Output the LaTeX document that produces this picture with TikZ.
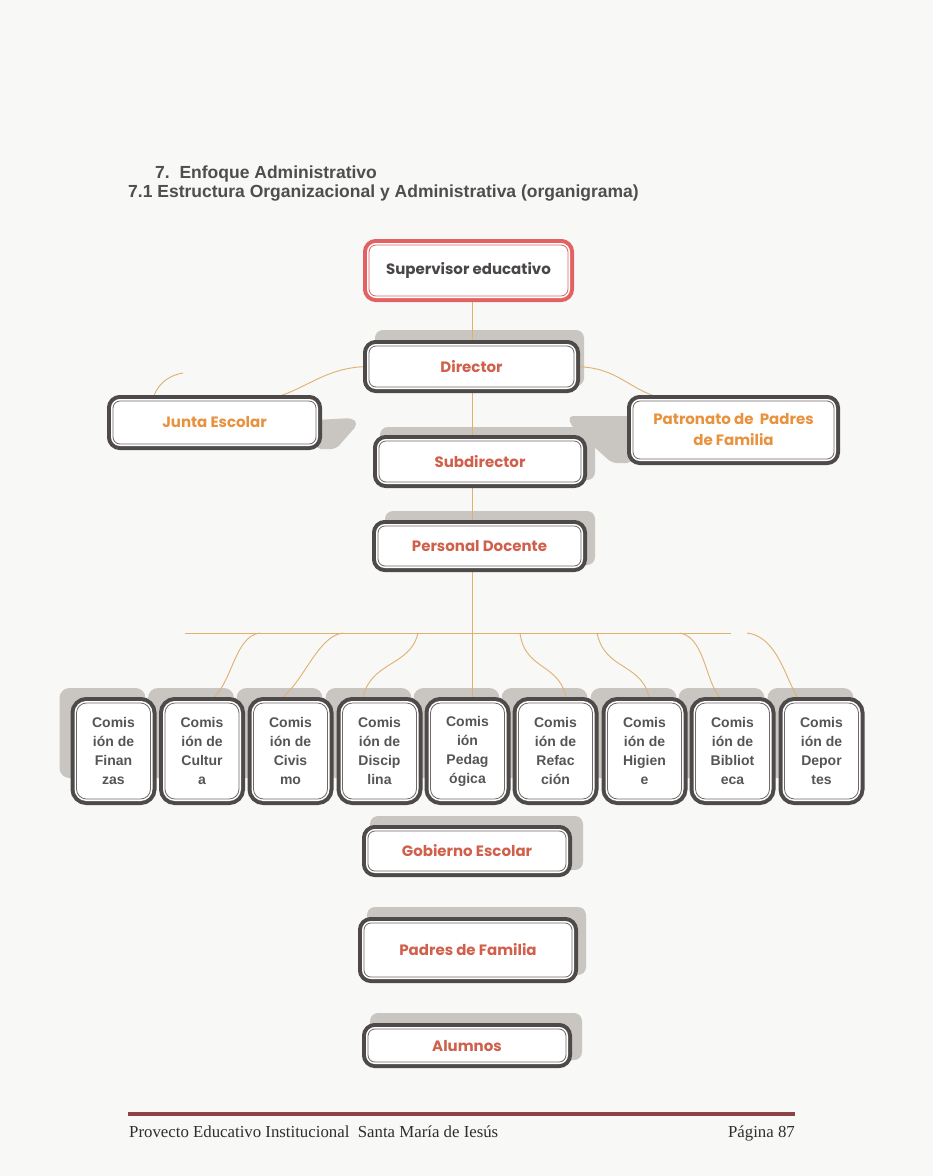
\documentclass[tikz,border=0pt]{standalone}
\usepackage{fontspec}
\setmainfont{Liberation Sans}
\newfontfamily\rfont{Poppins}
\newfontfamily\serfont{Liberation Serif}
\definecolor{boxout}{HTML}{4F4A4A}
\definecolor{boxin}{HTML}{6E6868}
\definecolor{shad}{HTML}{C9C6C1}
\definecolor{conn}{HTML}{E0B070}
\definecolor{redtxt}{HTML}{D0604C}
\definecolor{orgtxt}{HTML}{E8923E}
\definecolor{suptxt}{HTML}{4A4646}
\definecolor{supred}{HTML}{E06262}
\definecolor{comtxt}{HTML}{555555}
\definecolor{ttl}{HTML}{4E4E4E}
\definecolor{footc}{HTML}{8E4444}
\definecolor{paper}{HTML}{F8F8F6}
\pgfdeclarelayer{paperlayer}
\pgfdeclarelayer{shadowlayer}
\pgfdeclarelayer{connlayer}
\pgfsetlayers{paperlayer,shadowlayer,connlayer,main}
\begin{document}
\begin{tikzpicture}[x=1pt,y=-1pt,
  framebox/.style 2 args={rounded corners=7pt, fill=white, draw=#2, line width=0.8pt,
    preaction={draw=#1, line width=12pt},
    preaction={draw=white, line width=4pt},
    inner sep=0pt, align=center},
  mbox/.style={framebox={boxout}{boxin}, text=redtxt,
    font=\rfont\bfseries\fontsize{15}{21}\selectfont},
  sidebox/.style={mbox, text=orgtxt},
  supbox/.style={framebox={supred}{supred}, text=suptxt,
    font=\rfont\bfseries\fontsize{15}{21}\selectfont},
  cbox/.style={framebox={boxout}{boxin}, rounded corners=10pt,
    minimum width=74pt, minimum height=96pt, text=comtxt,
    font=\bfseries\fontsize{14}{19}\selectfont},
  shadow/.style={fill=shad, rounded corners=8pt},
  conn/.style={draw=conn, line width=0.9pt},
  ttlfont/.style={font=\bfseries\fontsize{17.5}{20}\selectfont, text=ttl, inner sep=0pt},
  footfont/.style={font=\serfont\fontsize{16.8}{19}\selectfont, text=black!82, inner sep=0pt}
]
\begin{pgfonlayer}{paperlayer}
  \fill[paper] (0,0) rectangle (933,1176);
\end{pgfonlayer}
\useasboundingbox (0,0) rectangle (933,1176);

% titles
\node[ttlfont, anchor=base west] (t1) at (155,178) {7.\ \ Enfoque Administrativo};
\node[ttlfont, anchor=base west] (t2) at (128,197) {7.1 Estructura Organizacional y Administrativa (organigrama)};

% main boxes
\node[supbox, minimum width=199pt, minimum height=51pt] (sup) at (468.5,270.5) {Supervisor educativo};
\node[mbox, minimum width=205pt, minimum height=41pt] (dir) at (471.5,366.5) {Director};
\node[sidebox, minimum width=203pt, minimum height=43pt] (junta) at (214.5,422.5) {Junta Escolar};
\node[sidebox, minimum width=201pt, minimum height=58pt] (patr) at (733.5,430) {Patronato de\ \ Padres\\de Familia};
\node[mbox, minimum width=202pt, minimum height=41pt] (sub) at (480,461.5) {Subdirector};
\node[mbox, minimum width=203pt, minimum height=40pt] (pd) at (479.5,546) {Personal Docente};
\node[mbox, minimum width=198pt, minimum height=40pt] (gob) at (467,851) {Gobierno Escolar};
\node[mbox, minimum width=208pt, minimum height=54pt] (padres) at (468,950) {Padres de Familia};
\node[mbox, minimum width=198pt, minimum height=33pt] (alum) at (467,1045.5) {Alumnos};

% commission boxes
\foreach \i/\x/\t in {1/113.5/{Comis\\ión de\\Finan\\zas},
                      2/202/{Comis\\ión de\\Cultur\\a},
                      3/290.5/{Comis\\ión de\\Civis\\mo},
                      4/379.5/{Comis\\ión de\\Discip\\lina},
                      5/467.5/{Comis\\ión\\Pedag\\ógica},
                      6/555.5/{Comis\\ión de\\Refac\\ción},
                      7/644.5/{Comis\\ión de\\Higien\\e},
                      8/732.5/{Comis\\ión de\\Bibliot\\eca},
                      9/821.5/{Comis\\ión de\\Depor\\tes}}{
  \node[cbox] (c\i) at (\x,751) {\t};
  \begin{pgfonlayer}{shadowlayer}
    \fill[shadow, rounded corners=10pt] (\x-54,688) rectangle (\x+32,778);
  \end{pgfonlayer}
}

% shadows
\begin{pgfonlayer}{shadowlayer}
  \fill[shadow] (375,330) rectangle (584,386);
  \fill[shadow] (380,427) rectangle (595,480);
  \fill[shadow] (385,511) rectangle (595,565);
  \fill[shadow] (370,816) rectangle (583,870);
  \fill[shadow] (367,907) rectangle (586,975);
  \fill[shadow] (370,1013) rectangle (582,1060);
  \fill[shadow, rounded corners=5pt] (316,420) -- (352,418) -- (358,424) -- (336,449) -- (316,449) -- cycle;
  \fill[shadow, rounded corners=5pt] (568,416) -- (632,416) -- (632,463) -- (612,463) -- (572,427) -- cycle;
\end{pgfonlayer}

% connectors
\coordinate (spine) at (472,0);
\coordinate (hl) at (185,633);
\coordinate (hr) at (731,633);
\coordinate (jl) at (183,373);
\coordinate (h9) at (747,633);
\begin{pgfonlayer}{connlayer}
  \draw[conn] (sup.south -| spine) -- (dir.north -| spine);
  \draw[conn] (dir.south -| spine) -- (sub.north -| spine);
  \draw[conn] (sub.south -| spine) -- (pd.north -| spine);
  \draw[conn] (pd.south -| spine) -- (c5.north -| spine);
  \draw[conn] (hl) -- (hr);
  \draw[conn] (dir.west) .. controls (318,367) and (300,398) .. ([xshift=40.5pt]junta.north);
  \draw[conn] (jl) .. controls (166,376) and (156,386) .. ([xshift=-62pt]junta.north);
  \draw[conn] (dir.east) .. controls (625,367) and (630,397) .. ([xshift=-55.5pt]patr.north);
  \draw[conn] ([xshift=75pt]hl) .. controls (232,636) and (232,694) .. ([xshift=3pt]c2.north);
  \draw[conn] ([xshift=158pt]hl) .. controls (315,636) and (300,694) .. ([xshift=-17.5pt]c3.north);
  \draw[conn] ([xshift=233pt]hl) .. controls (410,668) and (368,660) .. ([xshift=-17.5pt]c4.north);
  \draw[conn] ([xshift=335pt]hl) .. controls (525,672) and (562,662) .. ([xshift=11.5pt]c6.north);
  \draw[conn] ([xshift=412pt]hl) .. controls (605,672) and (645,662) .. ([xshift=5.5pt]c7.north);
  \draw[conn] ([xshift=495pt]hl) .. controls (708,638) and (705,694) .. ([xshift=-5.5pt]c8.north);
  \draw[conn] (h9) .. controls (782,637) and (788,694) .. ([xshift=-18.5pt]c9.north);
\end{pgfonlayer}

% footer
\coordinate (fl) at (128,1114);
\coordinate (fr) at (795,1114);
\draw[footc, line width=4pt] (fl) -- (fr);
\node[footfont, anchor=base west] (ft) at (129,1137) {Provecto Educativo Institucional\ \ Santa María de Iesús};
\node[footfont, anchor=base east] (pg) at (795,1137) {Página 87};
\end{tikzpicture}
\end{document}
